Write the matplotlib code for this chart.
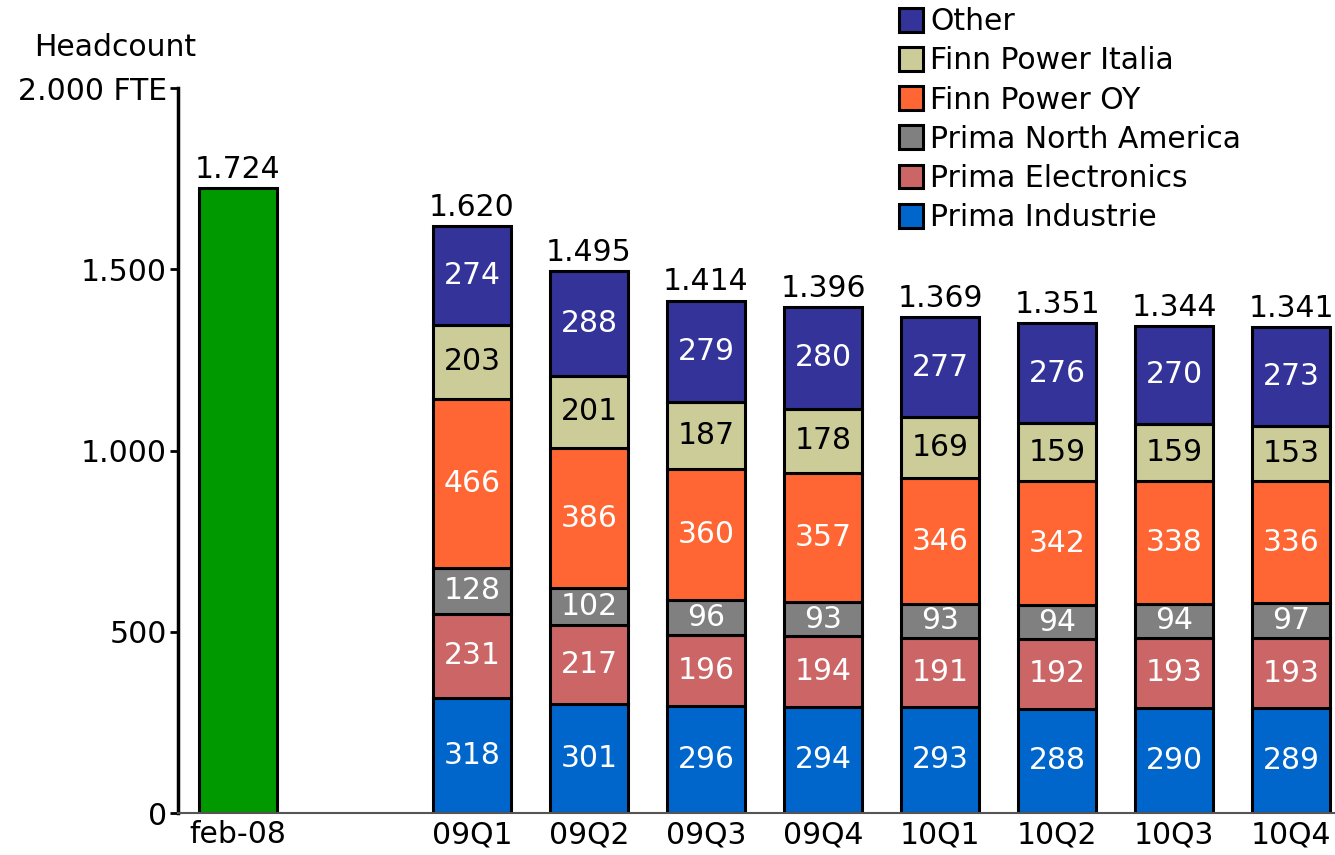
import matplotlib.pyplot as plt
from matplotlib.patches import Patch
import numpy as np

plt.rcParams['font.family'] = 'DejaVu Sans'

quarters = ['09Q1', '09Q2', '09Q3', '09Q4', '10Q1', '10Q2', '10Q3', '10Q4']
prima_industrie = [318, 301, 296, 294, 293, 288, 290, 289]
prima_electronics = [231, 217, 196, 194, 191, 192, 193, 193]
prima_north_america = [128, 102, 96, 93, 93, 94, 94, 97]
finn_power_oy = [466, 386, 360, 357, 346, 342, 338, 336]
finn_power_italia = [203, 201, 187, 178, 169, 159, 159, 153]
other = [274, 288, 279, 280, 277, 276, 270, 273]
totals = [1620, 1495, 1414, 1396, 1369, 1351, 1344, 1341]
feb08_label = 'feb-08'
feb08_value = 1724

series = [
    ('Prima Industrie', prima_industrie, '#0066CC', 'white'),
    ('Prima Electronics', prima_electronics, '#CC6666', 'white'),
    ('Prima North America', prima_north_america, '#808080', 'white'),
    ('Finn Power OY', finn_power_oy, '#FF6633', 'white'),
    ('Finn Power Italia', finn_power_italia, '#CCCC99', 'black'),
    ('Other', other, '#333399', 'white'),
]


def fmt(v):
    return f'{v:,}'.replace(',', '.')


fig = plt.figure(figsize=(13.35, 8.55), dpi=100)
ax = fig.add_axes([0.1333, 0.049, 0.8667, 0.848])

fs = 21.5
w = 0.665
x = np.arange(len(quarters)) + 2

# feb-08 bar
ax.bar(0, feb08_value, width=w, color='#009900', edgecolor='black', linewidth=2.2)
ax.annotate(fmt(feb08_value), (0, feb08_value), xytext=(0, 3), textcoords='offset points',
            ha='center', va='bottom', fontsize=fs)

bottom = np.zeros(len(quarters))
handles = []
for name, vals, col, tcol in series:
    vals = np.array(vals)
    ax.bar(x, vals, width=w, bottom=bottom, color=col, edgecolor='black', linewidth=2.2)
    for xi, b, v in zip(x, bottom, vals):
        ax.text(xi, b + v / 2, str(v), ha='center', va='center', color=tcol, fontsize=fs)
    bottom += vals
    handles.append(Patch(facecolor=col, edgecolor='black', linewidth=2.2, label=name))

for xi, t in zip(x, totals):
    ax.annotate(fmt(t), (xi, t), xytext=(0, 3), textcoords='offset points',
                ha='center', va='bottom', fontsize=fs)

ax.set_xlim(-0.513, 9.376)
ax.set_ylim(0, 2000)
ax.set_xticks([0] + list(x))
ax.set_xticklabels([feb08_label] + quarters, fontsize=fs)
ax.tick_params(axis='x', length=0, pad=5)
ax.set_yticks([0, 500, 1000, 1500, 2000])
ax.set_yticklabels(['0', '500', '1.000', '1.500', '2.000 FTE'], fontsize=fs)
ax.tick_params(axis='y', length=6, width=2, direction='out', pad=2)

for s in ['top', 'right']:
    ax.spines[s].set_visible(False)
ax.spines['left'].set_linewidth(2.5)
ax.spines['bottom'].set_color('#555555')
ax.spines['bottom'].set_linewidth(1.5)

fig.text(115 / 1335, 1 - 47 / 855, 'Headcount', ha='center', va='center', fontsize=fs)

fig.legend(handles=handles[::-1], loc='upper left', bbox_to_anchor=(896 / 1335, 0.995),
           frameon=False, fontsize=fs, handlelength=0.8, handleheight=0.85,
           handletextpad=0.25, labelspacing=0.34, borderaxespad=0.0, borderpad=0.1)

fig.savefig('out.png', dpi=100)
